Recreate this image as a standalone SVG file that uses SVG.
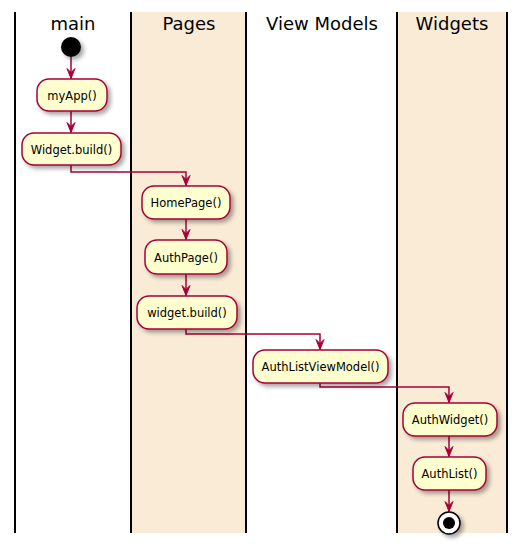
<svg xmlns="http://www.w3.org/2000/svg" width="525" height="549" viewBox="0 0 525 549">
<style>
.lane{fill:#FAEBD7;stroke:none}
.sep{stroke:#000;stroke-width:2}
.title{font-family:"DejaVu Sans",sans-serif;font-size:18px;fill:#000;text-anchor:middle}
.act rect{fill:#FEFECE;stroke:#A80036;stroke-width:1.5;filter:url(#sh)}
.act text{font-family:"DejaVu Sans",sans-serif;font-size:11.5px;fill:#000;text-anchor:middle}
.con{fill:none;stroke:#A80036;stroke-width:1.5;marker-end:url(#ah)}
</style>
<defs>
<filter id="sh" x="-20%" y="-20%" width="150%" height="160%">
<feGaussianBlur in="SourceAlpha" stdDeviation="2"/>
<feOffset dx="3" dy="3" result="b"/>
<feComponentTransfer><feFuncA type="linear" slope="0.35"/></feComponentTransfer>
<feMerge><feMergeNode/><feMergeNode in="SourceGraphic"/></feMerge>
</filter>
<marker id="ah" markerUnits="userSpaceOnUse" markerWidth="13" markerHeight="11" viewBox="-12 -5.5 13 11" refX="0" refY="0" orient="auto">
<path d="M0,0 L-10,-4 L-6,0 L-10,4 Z" fill="#A80036" stroke="#A80036" stroke-width="1" stroke-linejoin="miter"/>
</marker>
</defs>
<rect class="lane" x="131" y="12" width="115" height="521"/>
<rect class="lane" x="397" y="12" width="110" height="521"/>
<g id="lanes">
<line class="sep" x1="15" y1="12" x2="15" y2="533"/>
<line class="sep" x1="131" y1="12" x2="131" y2="533"/>
<line class="sep" x1="246" y1="12" x2="246" y2="533"/>
<line class="sep" x1="397" y1="12" x2="397" y2="533"/>
<line class="sep" x1="507" y1="12" x2="507" y2="533"/>
<text class="title" x="73" y="30">main</text>
<text class="title" x="189" y="30">Pages</text>
<text class="title" x="322" y="30">View Models</text>
<text class="title" x="452" y="30">Widgets</text>
</g>
<g id="connectors">
<path class="con" d="M71,57 V78.5"/>
<path class="con" d="M71,111 V132.5"/>
<path class="con" d="M71,165 V172 H186 V185.5"/>
<path class="con" d="M186,219 V239.5"/>
<path class="con" d="M186,274 V295.5"/>
<path class="con" d="M186,329 V334 H320 V349.5"/>
<path class="con" d="M320,383 V387 H449 V402.5"/>
<path class="con" d="M449,436 V456.5"/>
<path class="con" d="M449,490 V511.5"/>
</g>
<g id="start"><circle cx="71" cy="47" r="10" fill="#000" filter="url(#sh)"/></g>
<g id="myApp" class="act"><rect x="37" y="79" width="70" height="32" rx="12"/><text x="72" y="99.5">myApp()</text></g>
<g id="widgetBuildMain" class="act"><rect x="22" y="133" width="99" height="32" rx="12"/><text x="71.5" y="153.5">Widget.build()</text></g>
<g id="homePage" class="act"><rect x="142" y="186" width="88" height="33" rx="12"/><text x="186" y="207">HomePage()</text></g>
<g id="authPage" class="act"><rect x="145" y="240" width="82" height="34" rx="12"/><text x="186" y="261.5">AuthPage()</text></g>
<g id="widgetBuildPages" class="act"><rect x="137" y="296" width="100" height="33" rx="12"/><text x="187" y="317">widget.build()</text></g>
<g id="authListViewModel" class="act"><rect x="253" y="350" width="135" height="33" rx="12"/><text x="320.5" y="371">AuthListViewModel()</text></g>
<g id="authWidget" class="act"><rect x="403" y="403" width="94" height="33" rx="12"/><text x="450" y="424">AuthWidget()</text></g>
<g id="authList" class="act"><rect x="413" y="457" width="73" height="33" rx="12"/><text x="449.5" y="478">AuthList()</text></g>
<g id="end"><circle cx="449" cy="523" r="11" fill="#fff" stroke="#000" stroke-width="1.5" filter="url(#sh)"/><circle cx="449" cy="523" r="6" fill="#000"/></g>
</svg>
